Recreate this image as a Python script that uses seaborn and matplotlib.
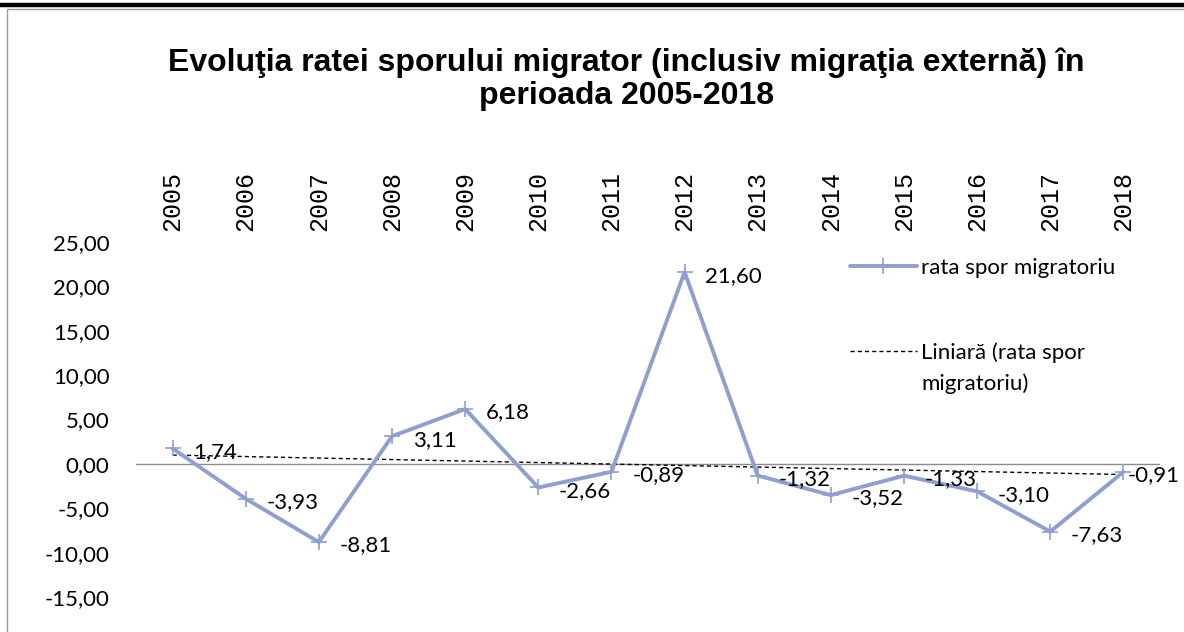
import matplotlib

matplotlib.use("Agg")
import matplotlib.pyplot as plt
import numpy as np
import pandas as pd
import seaborn as sns
from matplotlib.lines import Line2D
from matplotlib.patches import Rectangle


YEARS = ["2005", "2006", "2007", "2008", "2009", "2010", "2011",
         "2012", "2013", "2014", "2015", "2016", "2017", "2018"]
RATES = [1.74, -3.93, -8.81, 3.11, 6.18, -2.66, -0.89,
         21.60, -1.32, -3.52, -1.33, -3.10, -7.63, -0.91]
Y_TICKS = [-15, -10, -5, 0, 5, 10, 15, 20, 25]

TITLE = "Evoluţia ratei sporului migrator (inclusiv migraţia externă) în\nperioada 2005-2018"
SERIES_LABEL = "rata spor migratoriu"
TREND_LABEL = "Liniară (rata spor"
TREND_LABEL_2 = "migratoriu)"

LINE_COLOR = "#8E9FD0"
LABEL_FONT = "Lato"
LABEL_SIZE = 16


def fmt(value: float) -> str:
    return f"{value:.2f}".replace(".", ",")


def main() -> None:
    sns.set_theme(style="white")
    plt.rcParams["font.family"] = ["Lato", "DejaVu Sans"]

    df = pd.DataFrame({"idx": np.arange(len(YEARS)), "rate": RATES})

    fig = plt.figure(figsize=(11.84, 6.32), dpi=100)
    ax = fig.add_axes([136 / 1184, 1 - 597 / 632, (1160 - 136) / 1184, (597 - 242) / 632])

    # page decorations: thick rule on top and the chart frame
    fig.add_artist(Line2D([0, 1], [1 - 5 / 632, 1 - 5 / 632], color="black", lw=3.2,
                          transform=fig.transFigure))
    fig.add_artist(Rectangle((7 / 1184, -0.05), 1.2, 1 - 9 / 632 + 0.05, fill=False,
                             edgecolor="#9a9a9a", lw=1.0, transform=fig.transFigure))

    ax.axhline(0, color="#8c8c8c", lw=1.0, zorder=1)

    # linear trend line
    slope, intercept = np.polyfit(df["idx"], df["rate"], 1)
    df["trend"] = slope * df["idx"] + intercept
    sns.lineplot(data=df, x="idx", y="trend", ax=ax, color="black", lw=1.0,
                 linestyle=(0, (3, 2.2)), zorder=2, label=TREND_LABEL)

    sns.lineplot(data=df, x="idx", y="rate", ax=ax, color=LINE_COLOR, lw=2.8,
                 marker="+", markersize=12, markeredgewidth=1.2,
                 markeredgecolor=LINE_COLOR, zorder=3, label=SERIES_LABEL)

    value_labels = []
    for i, value in enumerate(RATES):
        value_labels.append(
            ax.annotate(fmt(value), (i, value), xytext=(15, -2.5), textcoords="offset points",
                        ha="left", va="center", fontsize=LABEL_SIZE, family=LABEL_FONT,
                        color="black")
        )

    ax.set_xlim(-0.5, len(YEARS) - 0.5)
    ax.set_ylim(-15, 25)
    ax.set_yticks(Y_TICKS)
    ax.set_yticklabels([fmt(v) for v in Y_TICKS], fontsize=16, family=LABEL_FONT,
                       color="black")
    ax.set_xticks(df["idx"])
    ax.set_xticklabels(YEARS, rotation=90, fontsize=18, family="Liberation Mono",
                       color="black")
    ax.xaxis.tick_top()
    ax.tick_params(axis="x", length=0, pad=8)
    ax.tick_params(axis="y", length=0, pad=19)
    ax.set_xlabel("")
    ax.set_ylabel("")
    for spine in ax.spines.values():
        spine.set_visible(False)
    ax.set_facecolor("none")

    handles, labels = ax.get_legend_handles_labels()
    leg = ax.legend(handles[::-1], labels[::-1], loc="upper left",
                    bbox_to_anchor=(850 / 1184, 1 - 258 / 632), bbox_transform=fig.transFigure,
                    frameon=False, borderpad=0, borderaxespad=0, handlelength=3.0,
                    handletextpad=0.2, labelspacing=2.9,
                    prop={"family": LABEL_FONT, "size": LABEL_SIZE})
    for text in leg.get_texts():
        text.set_color("black")

    fig.text(0.529, 1 - 79 / 632, TITLE, ha="center", va="center", fontsize=23,
             fontweight="bold", family="Liberation Sans", linespacing=1.12, color="black")

    fig.canvas.draw()
    text_box = leg.get_texts()[1].get_window_extent()
    fig.text(text_box.x0 / fig.bbox.width, (text_box.y0 - 31) / fig.bbox.height,
             TREND_LABEL_2, ha="left", va="bottom", fontsize=LABEL_SIZE, family=LABEL_FONT,
             color="black")

    # keep value labels inside the picture, like the spreadsheet does
    right_limit = fig.bbox.width - 4
    for label in value_labels:
        box = label.get_window_extent()
        if box.x1 > right_limit:
            x_off, y_off = label.xyann
            label.xyann = (x_off - (box.x1 - right_limit) * 72 / fig.dpi, y_off)

    fig.savefig("out.png", dpi=100, facecolor="white")
    plt.close(fig)


if __name__ == "__main__":
    main()
